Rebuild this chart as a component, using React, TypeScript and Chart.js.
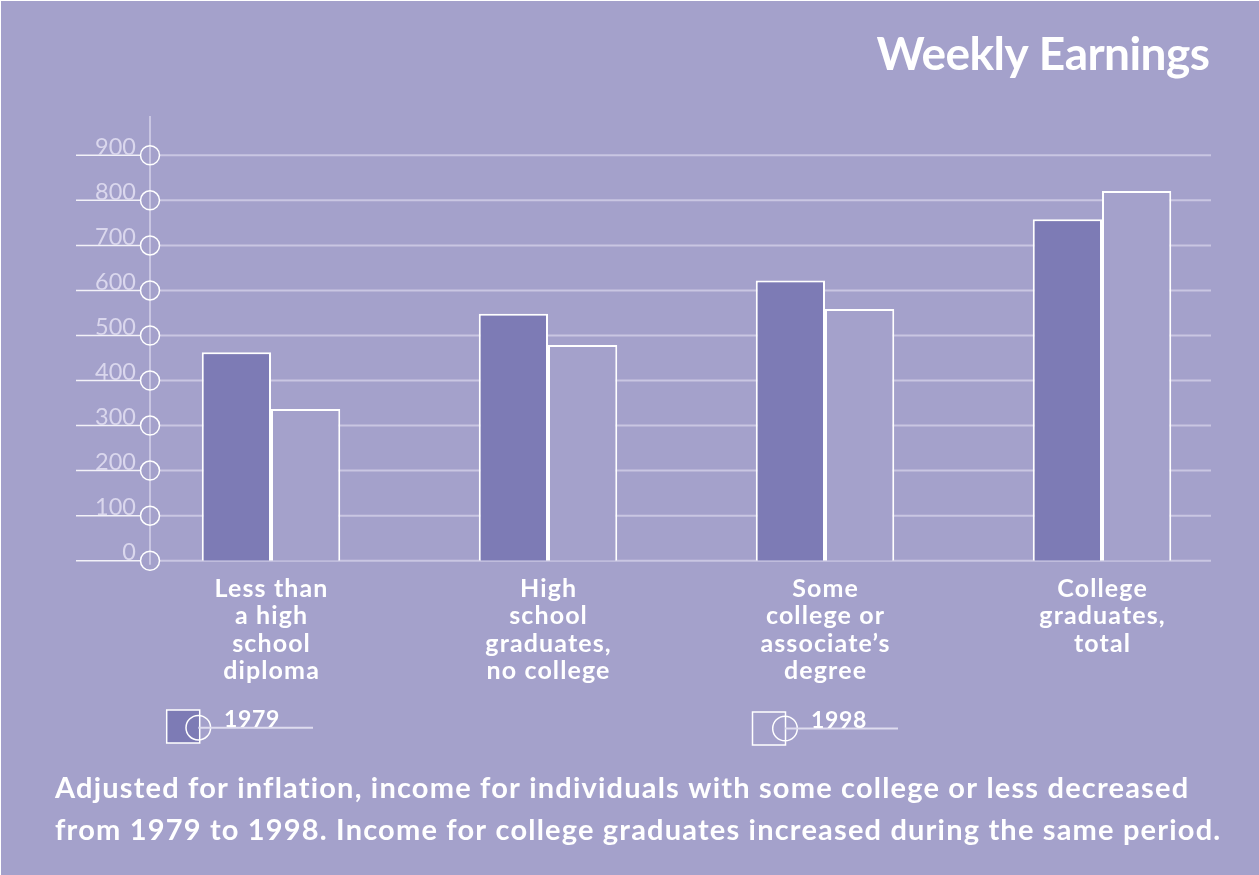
import React, { useEffect, useRef } from "react";
import { Chart, registerables } from "chart.js";

Chart.register(...registerables);

// ---------- data ----------
const categories: string[][] = [
  ["Less than", "a high", "school", "diploma"],
  ["High", "school", "graduates,", "no college"],
  ["Some", "college or", "associate’s", "degree"],
  ["College", "graduates,", "total"],
];
const seriesNames = ["1979", "1998"];
const earnings1979 = [463, 548, 622, 758];
const earnings1998 = [337, 479, 559, 821];
const yTickValues = [0, 100, 200, 300, 400, 500, 600, 700, 800, 900];
const titleText = "Weekly Earnings";
const footnoteLines = [
  "Adjusted for inflation, income for individuals with some college or less decreased",
  "from 1979 to 1998. Income for college graduates increased during the same period.",
];

// ---------- styles ----------
const BG = "#a4a1cb";
const DARK = "#7d7bb5";
const GRID = "#c9c6e2";
const TICK_TEXT = "#dad7ed";
const WHITE = "#ffffff";
const FONT = "Lato, 'Open Sans', sans-serif";

// letter spacing needed so that `text` at given font spans `target` px
function spacingFor(ctx: CanvasRenderingContext2D, text: string, font: string, target: number) {
  ctx.font = font;
  (ctx as any).letterSpacing = "0px";
  const w = ctx.measureText(text).width;
  return (target - w) / text.length;
}

function setSpacing(ctx: CanvasRenderingContext2D, px: number) {
  // a tiny non-zero spacing also disables ligatures
  const v = Math.abs(px) < 0.02 ? 0.02 : px;
  (ctx as any).letterSpacing = `${v}px`;
}

const decorPlugin = {
  id: "decor",
  beforeDraw(chart: any) {
    const ctx: CanvasRenderingContext2D = chart.ctx;
    const y = chart.scales.y;
    ctx.save();
    ctx.fillStyle = "#ffffff";
    ctx.fillRect(0, 0, chart.width, chart.height);
    ctx.fillStyle = BG;
    ctx.fillRect(1, 1, chart.width - 1, chart.height - 1);

    const axisX = 150;
    const gridRight = 1211;
    const gridLeft = 76;
    // vertical axis
    ctx.strokeStyle = GRID;
    ctx.lineWidth = 2;
    ctx.beginPath();
    ctx.moveTo(axisX, 116);
    ctx.lineTo(axisX, y.getPixelForValue(0) + 4);
    ctx.stroke();

    y.ticks.forEach((t: any) => {
      const py = y.getPixelForValue(t.value);
      ctx.strokeStyle = GRID;
      ctx.lineWidth = 2;
      ctx.beginPath();
      ctx.moveTo(axisX + 9, py);
      ctx.lineTo(gridRight, py);
      ctx.stroke();
      ctx.strokeStyle = "#f2f1f8";
      ctx.lineWidth = 1.5;
      ctx.beginPath();
      ctx.moveTo(gridLeft, py);
      ctx.lineTo(axisX - 9, py);
      ctx.stroke();
      ctx.fillStyle = TICK_TEXT;
      ctx.font = `23.5px ${FONT}`;
      setSpacing(ctx, 0);
      ctx.textAlign = "right";
      ctx.textBaseline = "alphabetic";
      ctx.fillText(String(t.value), 136, py - 0.5);
      ctx.strokeStyle = WHITE;
      ctx.lineWidth = 1.5;
      ctx.beginPath();
      ctx.arc(axisX, py, 9.5, 0, Math.PI * 2);
      ctx.stroke();
    });
    ctx.restore();
  },
  afterDatasetsDraw(chart: any) {
    const ctx: CanvasRenderingContext2D = chart.ctx;
    const x = chart.scales.x;
    ctx.save();
    ctx.fillStyle = WHITE;
    ctx.textBaseline = "alphabetic";

    // title
    const tFont = `bold 46px ${FONT}`;
    const tls = spacingFor(ctx, titleText, tFont, 333);
    ctx.font = tFont;
    setSpacing(ctx, tls);
    ctx.textAlign = "right";
    ctx.fillText(titleText, 1210 + tls, 70);

    // category labels
    const cFont = `bold 25px ${FONT}`;
    const cls = spacingFor(ctx, "Less than", cFont, 114);
    ctx.font = cFont;
    setSpacing(ctx, cls);
    ctx.textAlign = "center";
    categories.forEach((lines, i) => {
      const cx = x.getPixelForValue(i);
      lines.forEach((ln, j) => {
        ctx.fillText(ln, cx + cls / 2, 597 + j * 27.3);
      });
    });

    // legend
    const legendItems = [
      { name: seriesNames[0], fill: DARK, sx: 166.7, sy: 710, cx: 198.3, cy: 727.7, lineEnd: 313, tx: 224 },
      { name: seriesNames[1], fill: BG, sx: 752.5, sy: 712, cx: 785, cy: 728.5, lineEnd: 898, tx: 811 },
    ];
    const lFont = `bold 23px ${FONT}`;
    const lls = spacingFor(ctx, "1979", lFont, 56);
    legendItems.forEach((it) => {
      ctx.fillStyle = it.fill;
      ctx.fillRect(it.sx, it.sy, 33, 33);
      ctx.strokeStyle = WHITE;
      ctx.lineWidth = 1.5;
      ctx.strokeRect(it.sx, it.sy, 33, 33);
      ctx.beginPath();
      ctx.arc(it.cx, it.cy, 12.3, 0, Math.PI * 2);
      ctx.stroke();
      ctx.strokeStyle = "#dedcef";
      ctx.lineWidth = 2;
      ctx.beginPath();
      ctx.moveTo(it.cx, it.cy);
      ctx.lineTo(it.lineEnd, it.cy);
      ctx.stroke();
      ctx.fillStyle = WHITE;
      ctx.font = lFont;
      setSpacing(ctx, lls);
      ctx.textAlign = "left";
      ctx.fillText(it.name, it.tx, it.cy - 0.5);
    });

    // footnote
    const fFont = `bold 29px ${FONT}`;
    const fls = spacingFor(ctx, footnoteLines[0], fFont, 1135);
    ctx.font = fFont;
    setSpacing(ctx, fls);
    ctx.textAlign = "left";
    ctx.fillStyle = WHITE;
    footnoteLines.forEach((ln, i) => ctx.fillText(ln, 55, 798 + i * 42));
    ctx.restore();
  },
};

export default function App() {
  const ref = useRef<HTMLCanvasElement | null>(null);
  useEffect(() => {
    if (!ref.current) return;
    const chart = new Chart(ref.current, {
      type: "bar",
      data: {
        labels: categories.map((c) => c.join(" ")),
        datasets: [
          {
            label: seriesNames[0],
            data: earnings1979,
            backgroundColor: DARK,
            borderColor: WHITE,
            borderWidth: 2,
            borderSkipped: "bottom",
          },
          {
            label: seriesNames[1],
            data: earnings1998,
            backgroundColor: BG,
            borderColor: WHITE,
            borderWidth: 2,
            borderSkipped: "bottom",
          },
        ],
      },
      options: {
        animation: false,
        responsive: false,
        devicePixelRatio: 1,
        layout: { padding: { left: 132.5, right: 18.5, top: 155.3, bottom: 314.3 } },
        datasets: { bar: { categoryPercentage: 0.5, barPercentage: 1.0 } },
        scales: {
          x: { display: false, offset: true },
          y: {
            display: false,
            min: 0,
            max: 900,
            afterBuildTicks: (axis: any) => {
              axis.ticks = yTickValues.map((v) => ({ value: v }));
            },
          },
        },
        plugins: { legend: { display: false }, tooltip: { enabled: false } },
      },
      plugins: [decorPlugin],
    });
    return () => chart.destroy();
  }, []);
  return (
    <div style={{ position: "absolute", left: 0, top: 0, width: 1259, height: 875 }}>
      <canvas ref={ref} width={1259} height={875} style={{ display: "block" }} />
    </div>
  );
}
